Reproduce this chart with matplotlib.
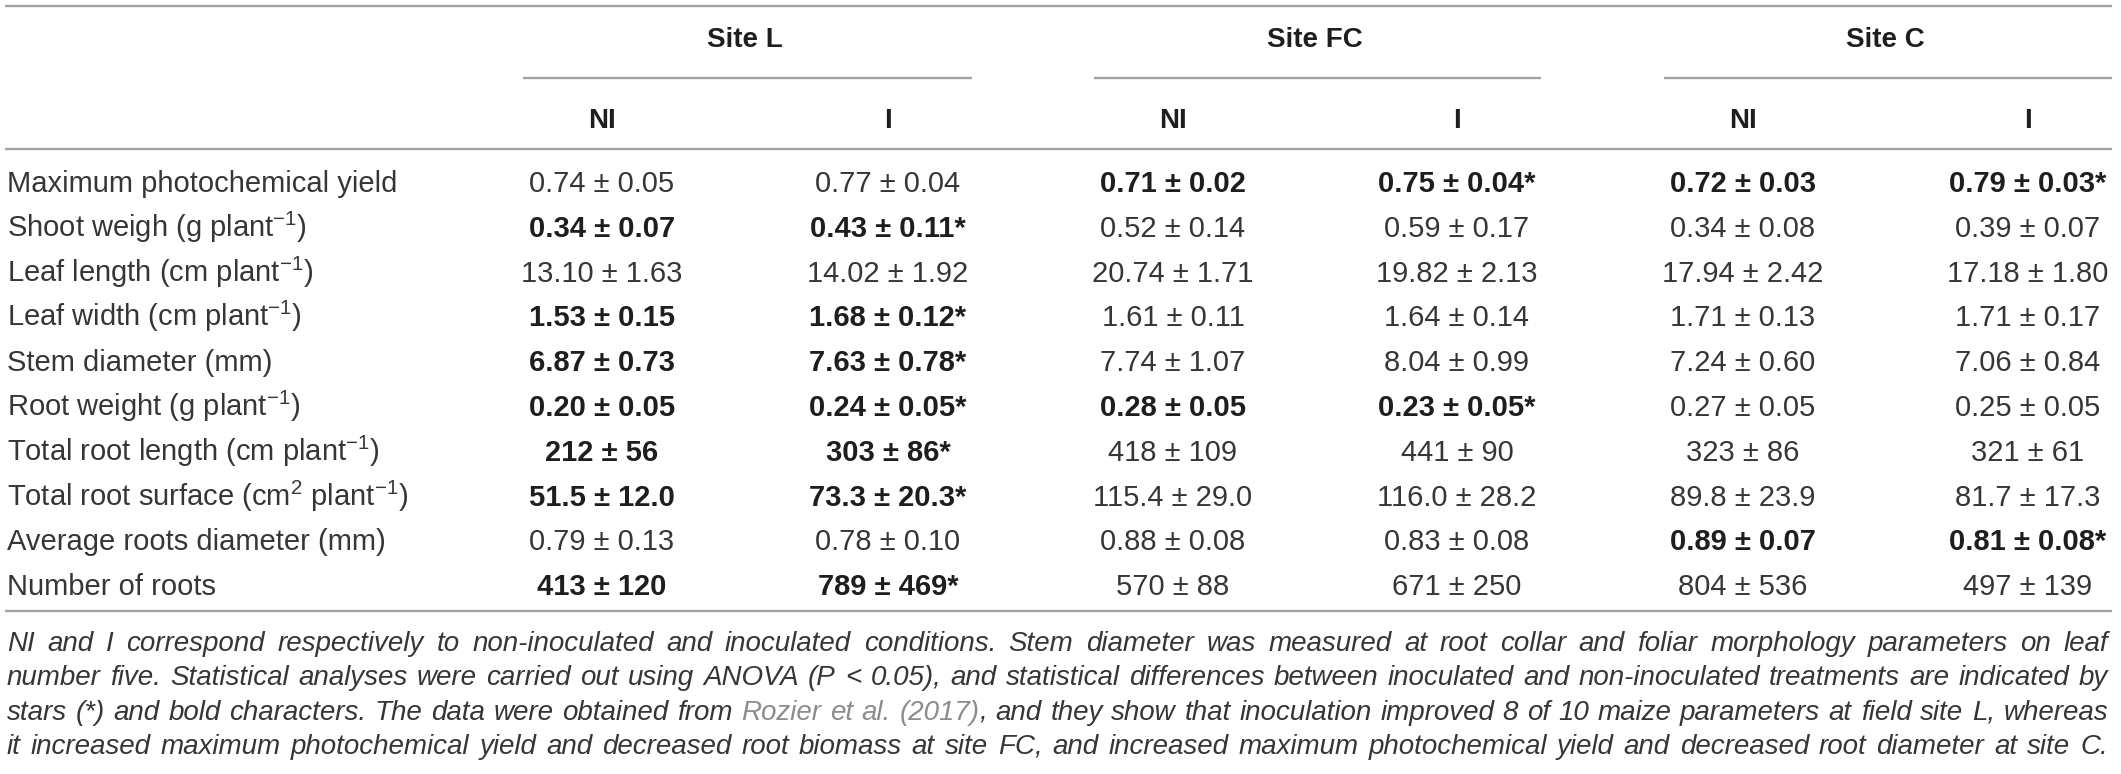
import matplotlib
matplotlib.use("Agg")
import matplotlib.pyplot as plt

# ---- table content ----
row_labels = [
    "Maximum photochemical yield",
    "Shoot weigh (g plant$^{-1}$)",
    "Leaf length (cm plant$^{-1}$)",
    "Leaf width (cm plant$^{-1}$)",
    "Stem diameter (mm)",
    "Root weight (g plant$^{-1}$)",
    "Total root length (cm plant$^{-1}$)",
    "Total root surface (cm$^{2}$ plant$^{-1}$)",
    "Average roots diameter (mm)",
    "Number of roots",
]
sites = ["Site L", "Site FC", "Site C"]
treatments = ["NI", "I"]

site_l_ni = ["0.74 ± 0.05", "0.34 ± 0.07", "13.10 ± 1.63", "1.53 ± 0.15", "6.87 ± 0.73",
             "0.20 ± 0.05", "212 ± 56", "51.5 ± 12.0", "0.79 ± 0.13", "413 ± 120"]
site_l_i = ["0.77 ± 0.04", "0.43 ± 0.11*", "14.02 ± 1.92", "1.68 ± 0.12*", "7.63 ± 0.78*",
            "0.24 ± 0.05*", "303 ± 86*", "73.3 ± 20.3*", "0.78 ± 0.10", "789 ± 469*"]
site_fc_ni = ["0.71 ± 0.02", "0.52 ± 0.14", "20.74 ± 1.71", "1.61 ± 0.11", "7.74 ± 1.07",
              "0.28 ± 0.05", "418 ± 109", "115.4 ± 29.0", "0.88 ± 0.08", "570 ± 88"]
site_fc_i = ["0.75 ± 0.04*", "0.59 ± 0.17", "19.82 ± 2.13", "1.64 ± 0.14", "8.04 ± 0.99",
             "0.23 ± 0.05*", "441 ± 90", "116.0 ± 28.2", "0.83 ± 0.08", "671 ± 250"]
site_c_ni = ["0.72 ± 0.03", "0.34 ± 0.08", "17.94 ± 2.42", "1.71 ± 0.13", "7.24 ± 0.60",
             "0.27 ± 0.05", "323 ± 86", "89.8 ± 23.9", "0.89 ± 0.07", "804 ± 536"]
site_c_i = ["0.79 ± 0.03*", "0.39 ± 0.07", "17.18 ± 1.80", "1.71 ± 0.17", "7.06 ± 0.84",
            "0.25 ± 0.05", "321 ± 61", "81.7 ± 17.3", "0.81 ± 0.08*", "497 ± 139"]

# rows with significant difference (bold) for each site
bold_l = [1, 3, 4, 5, 6, 7, 9]
bold_fc = [0, 5]
bold_c = [0, 8]

GRAY = "#8c8c8c"
caption_lines = [
    ["NI and I correspond respectively to non-inoculated and inoculated conditions. Stem diameter "
     "was measured at root collar and foliar morphology parameters on leaf"],
    ["number five. Statistical analyses were carried out using ANOVA (P < 0.05), and statistical "
     "differences between inoculated and non-inoculated treatments are indicated by"],
    ["stars (*) and bold characters. The data were obtained from", ("Rozier et al. (2017)", GRAY),
     ", and they show that inoculation improved 8 of 10 maize parameters at field site L, whereas"],
    ["it increased maximum photochemical yield and decreased root biomass at site FC, and "
     "increased maximum photochemical yield and decreased root diameter at site C."],
]

# ---- style ----
plt.rcParams["font.family"] = ["Liberation Sans", "DejaVu Sans"]
plt.rcParams["mathtext.fontset"] = "custom"
plt.rcParams["mathtext.rm"] = "Liberation Sans"
plt.rcParams["mathtext.it"] = "Liberation Sans:italic"
plt.rcParams["mathtext.bf"] = "Liberation Sans:bold"

W, H = 2121, 774
fig = plt.figure(figsize=(W / 100, H / 100), dpi=100)
ax = fig.add_axes([0, 0, 1, 1])
ax.set_xlim(0, W)
ax.set_ylim(H, 0)
ax.axis("off")

TXT = "#363636"
BTXT = "#1e1e1e"
LINE = "#a3a3a3"
fs = 21
left, right = 5, 2112

# rules
ax.hlines([6, 149, 611], left, right, color=LINE, lw=1.7)
col_x = [602, 888, 1173, 1457, 1743, 2028]
for k, name in enumerate(sites):
    x0, x1 = col_x[2 * k], col_x[2 * k + 1]
    ax.hlines(78, x0 - 79, x1 + 84, color=LINE, lw=1.7)
    ax.text((x0 + x1) / 2, 47, name, ha="center", va="baseline",
            fontsize=20, fontweight="bold", color=BTXT)
    for j, t in enumerate(treatments):
        ax.text(col_x[2 * k + j], 128, t, ha="center", va="baseline",
                fontsize=20, fontweight="bold", color=BTXT)

columns = [site_l_ni, site_l_i, site_fc_ni, site_fc_i, site_c_ni, site_c_i]
bolds = [bold_l, bold_l, bold_fc, bold_fc, bold_c, bold_c]
y0, dy = 192, 44.8
for i, lab in enumerate(row_labels):
    y = y0 + i * dy
    ax.text(7, y, lab, ha="left", va="baseline", fontsize=fs, color=TXT)
    for c, vals in enumerate(columns):
        b = i in bolds[c]
        ax.text(col_x[c], y, vals[i], ha="center", va="baseline", fontsize=fs,
                fontweight="bold" if b else "normal", color=BTXT if b else TXT)

# caption, justified between left and right
cap_fs = 20
cap_y0, cap_dy = 651, 34.3
renderer = fig.canvas.get_renderer()
for li, parts in enumerate(caption_lines):
    words = []  # each word = list of (text, colour)
    for p in parts:
        txt, col = (p, TXT) if isinstance(p, str) else p
        for n, tok in enumerate(txt.split(" ")):
            if tok == "":
                continue
            if n == 0 and words and txt[:1] in ",.":
                # punctuation directly after the previous part
                words[-1].append((tok, col))
                continue
            words.append([(tok, col)])
    y = cap_y0 + li * cap_dy
    objs = []
    widths = []
    for w in words:
        segs = []
        wsum = 0
        for s, col in w:
            t = ax.text(0, y, s, ha="left", va="baseline", fontsize=cap_fs,
                        style="italic", color=col)
            sw = t.get_window_extent(renderer).width
            segs.append((t, sw))
            wsum += sw
        objs.append(segs)
        widths.append(wsum)
    gap = (right - 4 - left - 2 - sum(widths)) / (len(words) - 1)
    x = left + 2
    for segs, wsum in zip(objs, widths):
        xs = x
        for t, sw in segs:
            t.set_x(xs)
            xs += sw
        x += wsum + gap

fig.savefig("out.png", dpi=100, facecolor="white")
